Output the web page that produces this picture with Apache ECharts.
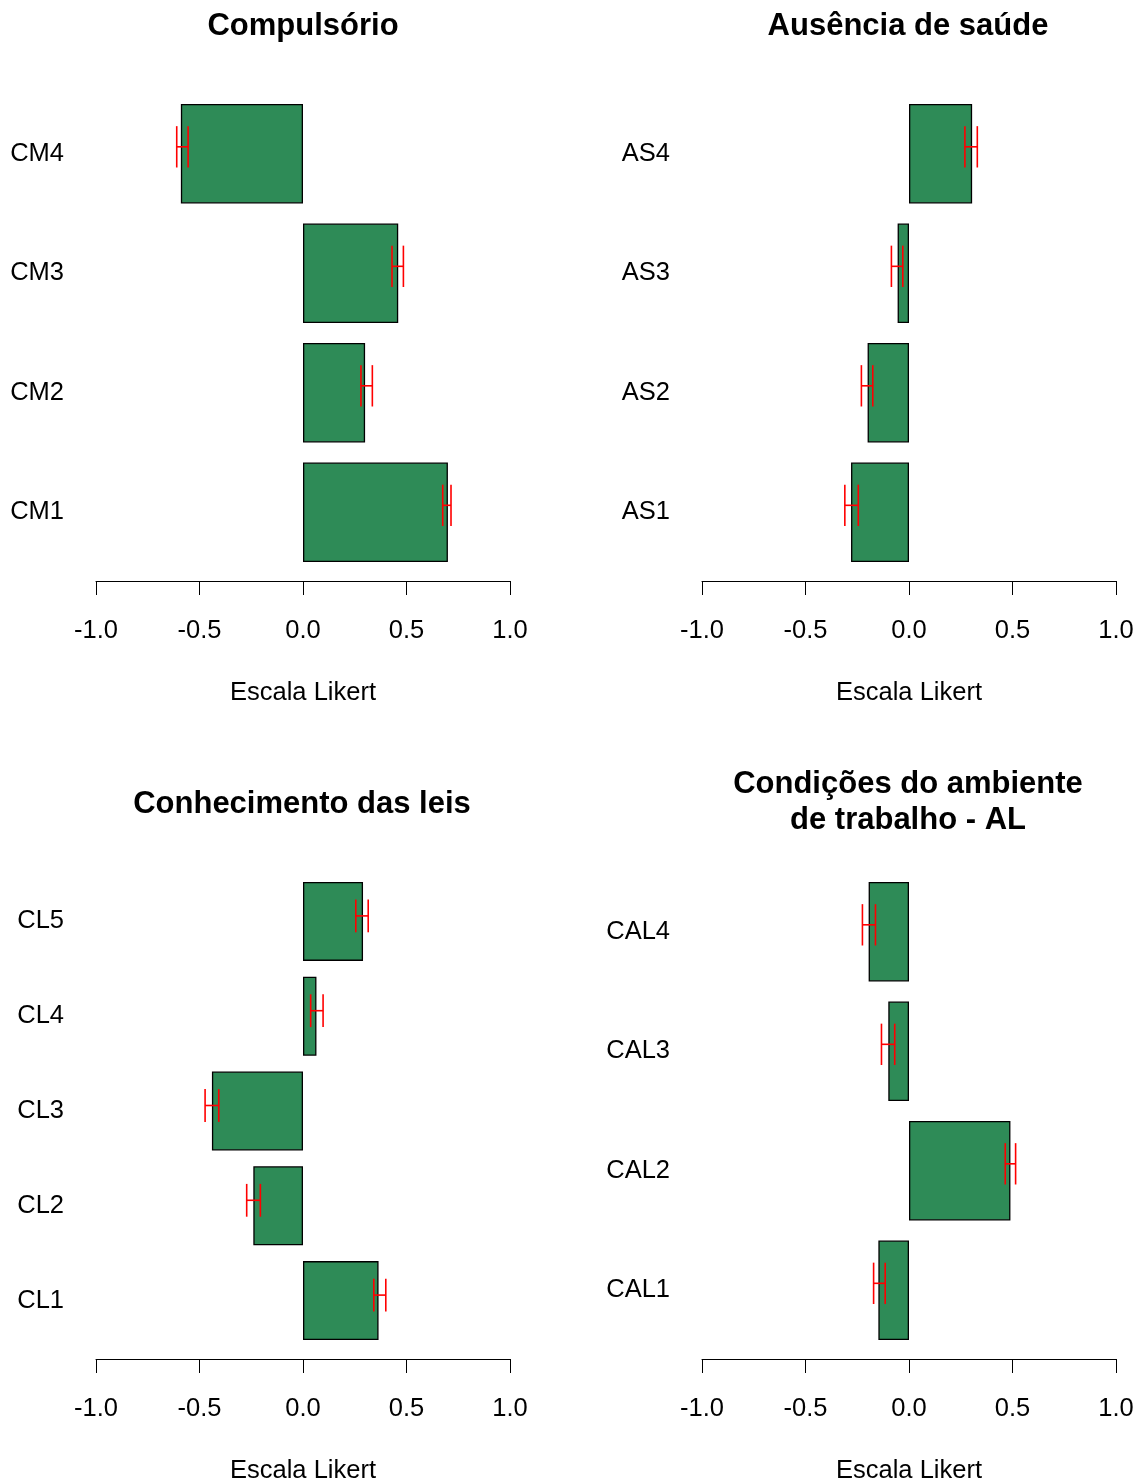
<!DOCTYPE html>
<html>
<head>
<meta charset="utf-8">
<script src="https://cdn.jsdelivr.net/npm/echarts@6/dist/echarts.min.js"></script>
<style>
  html, body { margin: 0; padding: 0; background: #fff; }
  #chart { width: 1141px; height: 1481px; }
</style>
</head>
<body>
<div id="chart"></div>
<script>
// categories listed top to bottom
var cmCats = ['CM4', 'CM3', 'CM2', 'CM1'];
var cmMean = [-0.59, 0.46, 0.30, 0.70];
var cmLow  = [-0.61, 0.43, 0.28, 0.675];
var cmHigh = [-0.555, 0.485, 0.335, 0.715];

var asCats = ['AS4', 'AS3', 'AS2', 'AS1'];
var asMean = [0.305, -0.055, -0.20, -0.28];
var asLow  = [0.27, -0.085, -0.23, -0.31];
var asHigh = [0.33, -0.03, -0.175, -0.245];

var clCats = ['CL5', 'CL4', 'CL3', 'CL2', 'CL1'];
var clMean = [0.29, 0.065, -0.44, -0.24, 0.365];
var clLow  = [0.255, 0.037, -0.473, -0.272, 0.342];
var clHigh = [0.315, 0.097, -0.407, -0.206, 0.40];

var calCats = ['CAL4', 'CAL3', 'CAL2', 'CAL1'];
var calMean = [-0.195, -0.10, 0.49, -0.148];
var calLow  = [-0.225, -0.133, 0.465, -0.171];
var calHigh = [-0.162, -0.069, 0.515, -0.115];

var FONT = 'Liberation Sans, Arial, sans-serif';

var panels = [
    {title: 'Compulsório', tx: 303, ty: 8, cats: cmCats, mean: cmMean, low: cmLow, high: cmHigh,
     grid: {left: 96, top: 94, width: 414, height: 478}, off: 9},
    {title: 'Ausência de saúde', tx: 908, ty: 8, cats: asCats, mean: asMean, low: asLow, high: asHigh,
     grid: {left: 702, top: 94, width: 414, height: 478}, off: 9},
    {title: 'Conhecimento das leis', tx: 302, ty: 786, cats: clCats, mean: clMean, low: clLow, high: clHigh,
     grid: {left: 96, top: 874, width: 414, height: 474}, off: 11},
    {title: 'Condições do ambiente\nde trabalho - AL', tx: 908, ty: 766, cats: calCats, mean: calMean, low: calLow, high: calHigh,
     grid: {left: 702, top: 872, width: 414, height: 478}, off: 9}
];

function errRender(params, api) {
    var lo = api.value(0), hi = api.value(1), idx = api.value(2);
    var band = api.size([0, 1])[1];
    var p1 = api.coord([lo, idx]);
    var p2 = api.coord([hi, idx]);
    var y = p1[1] - band * 0.058;   // R's arrows sit a little above the bar centre
    var h = band * 0.173;
    var st = {stroke: '#ff0000', lineWidth: 1.6};
    return {
        type: 'group',
        children: [
            {type: 'line', shape: {x1: p1[0], y1: y, x2: p2[0], y2: y}, style: st},
            {type: 'line', shape: {x1: p1[0], y1: y - h, x2: p1[0], y2: y + h}, style: st},
            {type: 'line', shape: {x1: p2[0], y1: y - h, x2: p2[0], y2: y + h}, style: st}
        ]
    };
}

var option = {
    animation: false,
    backgroundColor: '#fff',
    textStyle: {fontFamily: FONT},
    title: [],
    grid: [],
    xAxis: [],
    yAxis: [],
    series: []
};

panels.forEach(function (p, i) {
    option.title.push({
        text: p.title, left: p.tx, top: p.ty, textAlign: 'center', padding: 0,
        textStyle: {fontFamily: FONT, fontSize: 31, fontWeight: 'bold', color: '#000', lineHeight: 36}
    });
    var g = Object.assign({outerBoundsMode: 'none', containLabel: false}, p.grid);
    option.grid.push(g);
    option.xAxis.push({
        gridIndex: i, type: 'value', min: -1, max: 1, interval: 0.5,
        offset: p.off,
        axisLine: {show: true, lineStyle: {color: '#000', width: 1}},
        axisTick: {show: true, length: 14, lineStyle: {color: '#000', width: 1}},
        splitLine: {show: false},
        axisLabel: {
            margin: 37, fontSize: 25.5, color: '#000', fontFamily: FONT,
            formatter: function (v) { return v.toFixed(1); }
        },
        name: 'Escala Likert', nameLocation: 'middle', nameGap: 99,
        nameTextStyle: {fontSize: 25.5, color: '#000', fontFamily: FONT}
    });
    option.yAxis.push({
        gridIndex: i, type: 'category', data: p.cats, inverse: true,
        axisLine: {show: false}, axisTick: {show: false}, splitLine: {show: false},
        axisLabel: {margin: 32, fontSize: 25.5, color: '#000', fontFamily: FONT, padding: [8, 0, 0, 0]}
    });
    option.series.push({
        type: 'bar', xAxisIndex: i, yAxisIndex: i, data: p.mean,
        barCategoryGap: '16.7%',
        itemStyle: {color: '#2e8b57', borderColor: '#000', borderWidth: 1.3}
    });
    option.series.push({
        type: 'custom', xAxisIndex: i, yAxisIndex: i,
        renderItem: errRender,
        encode: {x: [0, 1], y: 2},
        data: p.low.map(function (lo, k) { return [lo, p.high[k], k]; }),
        z: 5
    });
});

var myChart = echarts.init(document.getElementById('chart'));
myChart.setOption(option);
</script>
</body>
</html>
